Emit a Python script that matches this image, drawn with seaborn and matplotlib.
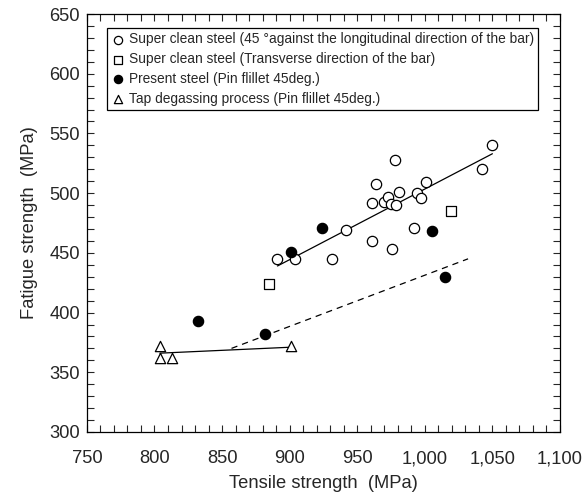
import matplotlib
matplotlib.use('Agg')
import matplotlib.pyplot as plt
import seaborn as sns
from matplotlib.ticker import MultipleLocator, FuncFormatter

# data
clean45_ts = [891, 904, 931, 942, 961, 961, 964, 978, 970, 973, 975, 979, 981, 976, 992, 994, 997, 1001, 1042, 1050]
clean45_fs = [445, 445, 445, 469, 460, 492, 508, 528, 493, 497, 491, 490, 501, 453, 471, 500, 496, 509, 520, 540]
trans_ts = [885, 1019]
trans_fs = [424, 485]
present_ts = [832, 882, 901, 924, 1005, 1015]
present_fs = [393, 382, 451, 471, 468, 430]
tap_ts = [804, 804, 813, 901]
tap_fs = [372, 362, 362, 372]

# trend lines (end points)
fit_clean_ts = [891, 1050]
fit_clean_fs = [439, 533]
fit_present_ts = [857, 1032]
fit_present_fs = [370, 445]
fit_tap_ts = [804, 901]
fit_tap_fs = [366, 371]

labels = ['Super clean steel (45 \u00b0against the longitudinal direction of the bar)',
          'Super clean steel (Transverse direction of the bar)',
          'Present steel (Pin flillet 45deg.)',
          'Tap degassing process (Pin flillet 45deg.)']

sns.set_style('ticks')
plt.rcParams['font.family'] = ['Liberation Sans', 'DejaVu Sans']

fig = plt.figure(figsize=(5.87, 4.92), dpi=100)
ax = fig.add_axes([0.148, 0.122, 0.806, 0.8495])

ms = 55
sns.scatterplot(x=clean45_ts, y=clean45_fs, marker='o', s=ms, facecolor='white',
                edgecolor='black', linewidth=0.9, label=labels[0], ax=ax, zorder=3)
sns.scatterplot(x=trans_ts, y=trans_fs, marker='s', s=ms, facecolor='white',
                edgecolor='black', linewidth=0.9, label=labels[1], ax=ax, zorder=3)
sns.scatterplot(x=present_ts, y=present_fs, marker='o', s=ms, facecolor='black',
                edgecolor='black', linewidth=0.9, label=labels[2], ax=ax, zorder=3)
sns.scatterplot(x=tap_ts, y=tap_fs, marker='^', s=ms, facecolor='white',
                edgecolor='black', linewidth=0.9, label=labels[3], ax=ax, zorder=3)

ax.plot(fit_clean_ts, fit_clean_fs, color='black', lw=0.9, zorder=2)
ax.plot(fit_present_ts, fit_present_fs, color='black', lw=0.9, ls=(0, (5, 4)), zorder=2)
ax.plot(fit_tap_ts, fit_tap_fs, color='black', lw=0.9, zorder=2)

ax.set_xlim(750, 1100)
ax.set_ylim(300, 650)
ax.xaxis.set_major_locator(MultipleLocator(50))
ax.xaxis.set_minor_locator(MultipleLocator(10))
ax.yaxis.set_major_locator(MultipleLocator(50))
ax.yaxis.set_minor_locator(MultipleLocator(10))
ax.xaxis.set_major_formatter(FuncFormatter(lambda v, p: f'{v:,.0f}'))
ax.tick_params(which='both', direction='in', top=True, right=True, length=5,
               width=0.8, labelsize=13.2, pad=5)
ax.tick_params(axis='x', which='major', pad=13)
for s in ax.spines.values():
    s.set_color('black')
    s.set_linewidth(0.9)

ax.set_xlabel('Tensile strength  (MPa)', fontsize=13.2, labelpad=6)
ax.set_ylabel('Fatigue strength  (MPa)', fontsize=13.2, labelpad=8)

leg = ax.legend(loc='upper left', bbox_to_anchor=(0.043, 0.966), fontsize=9.9,
                frameon=True, fancybox=False, edgecolor='black', framealpha=1,
                handletextpad=0.3, handlelength=1.0, borderpad=0.3,
                labelspacing=0.42, borderaxespad=0, markerscale=0.8)
leg.get_frame().set_linewidth(0.9)

fig.savefig('out.png', dpi=100)
